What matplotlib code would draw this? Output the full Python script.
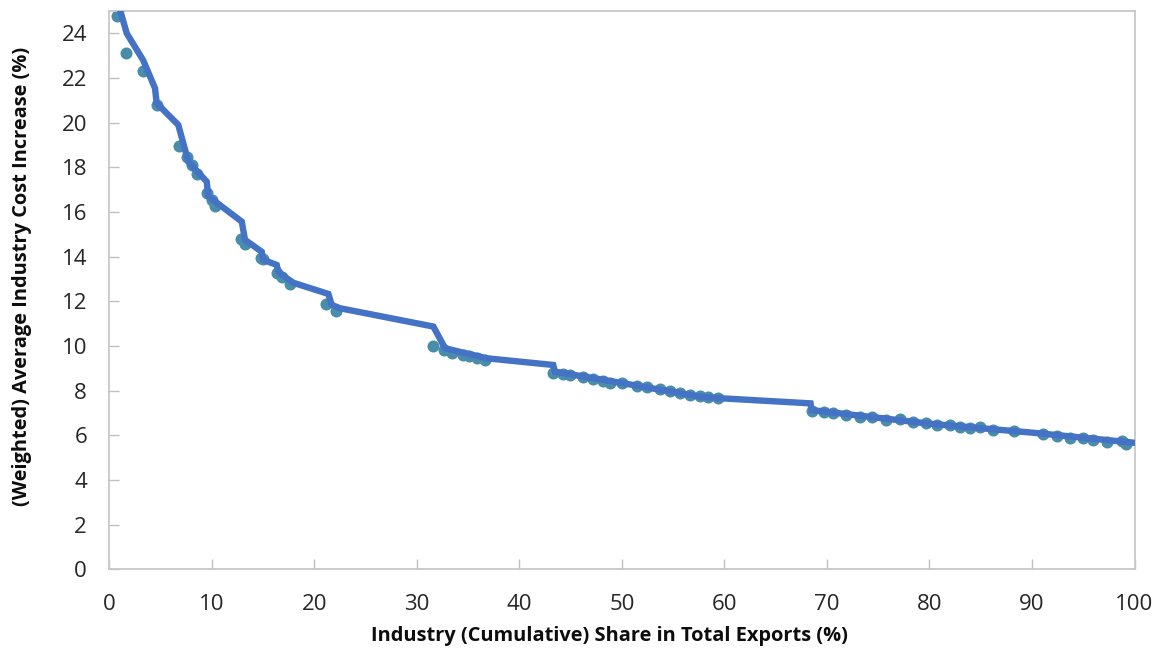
import matplotlib
matplotlib.use("Agg")
import matplotlib.pyplot as plt

# Scatter points: industry cumulative share (%) vs weighted avg cost increase (%)
pts_x = [0.72, 1.63, 3.32, 4.62, 6.77, 7.55, 8.04, 8.53, 9.50, 9.99, 10.31,
         12.82, 13.24, 14.8, 15.0, 16.33, 16.82, 17.63, 21.14, 22.12,
         31.6, 32.65, 33.4, 34.5, 35.1, 35.84, 36.65,
         43.3, 44.3, 44.9, 46.2, 47.2, 48.2, 48.85, 50.0, 51.45, 52.4, 53.7,
         54.7, 55.7, 56.65, 57.6, 58.4, 59.4,
         68.5, 69.7, 70.6, 71.9, 73.2, 74.4, 75.8, 77.1, 78.4, 79.7, 80.7,
         82.0, 83.0, 83.98, 84.9, 86.2, 88.2, 91.1, 92.4, 93.7, 95.0, 96.0,
         97.3, 98.8, 99.2]
pts_y = [24.79, 23.14, 22.31, 20.78, 18.96, 18.48, 18.10, 17.70, 16.87, 16.54, 16.27,
         14.78, 14.57, 13.93, 13.88, 13.28, 13.10, 12.76, 11.87, 11.58,
         10.0, 9.82, 9.70, 9.60, 9.55, 9.45, 9.36,
         8.80, 8.75, 8.70, 8.60, 8.50, 8.43, 8.36, 8.34, 8.20, 8.15, 8.06,
         8.00, 7.91, 7.82, 7.78, 7.72, 7.66,
         7.10, 7.06, 7.00, 6.91, 6.84, 6.80, 6.69, 6.71, 6.60, 6.54, 6.46,
         6.46, 6.39, 6.31, 6.36, 6.24, 6.19, 6.06, 5.97, 5.87, 5.87, 5.80,
         5.72, 5.76, 5.62]

# Line (cumulative curve)
line_x = [1.05, 1.70, 3.30, 4.46, 4.62, 6.73, 7.71, 9.50, 9.66, 12.92, 13.24,
          14.87, 15.00, 16.33, 16.50, 17.95, 21.37, 21.70, 22.50, 31.61, 32.75,
          36.80, 43.30, 43.48, 50.0, 57.6, 59.6, 68.4, 68.5, 80.0, 90.0, 99.9]
line_y = [25.05, 24.00, 22.80, 21.54, 20.87, 19.90, 18.25, 17.36, 16.70, 15.57, 14.75,
          14.22, 13.86, 13.63, 13.30, 12.83, 12.33, 11.84, 11.69, 10.87, 9.90,
          9.45, 9.15, 8.85, 8.34, 7.73, 7.66, 7.43, 7.13, 6.52, 6.12, 5.67]

x_ticks = list(range(0, 101, 10))
y_ticks = list(range(0, 25, 2))
x_label = "Industry (Cumulative) Share in Total Exports (%)"
y_label = "(Weighted) Average Industry Cost Increase (%)"

plt.rcParams['font.family'] = ['Open Sans', 'DejaVu Sans']

W, H = 1164, 654
fig = plt.figure(figsize=(W / 100, H / 100), dpi=100)
x0, x1, y0, y1 = 109.3, 1134.5, 569.3, 11.0
ax = fig.add_axes([x0 / W, (H - y0) / H, (x1 - x0) / W, (y0 - y1) / H])

ax.scatter(pts_x, pts_y, s=75, color="#4A8DAB", zorder=2, linewidths=0)
ax.plot(line_x, line_y, color="#4472C4", lw=4.6, zorder=3, solid_joinstyle="miter")

ax.set_xlim(0, 100)
ax.set_ylim(0, 25)
ax.set_xticks(x_ticks)
ax.set_yticks(y_ticks)
ax.tick_params(direction="in", length=7, width=1, color="#BFBFBF",
               labelsize=16, labelcolor="#262626")
ax.tick_params(axis="x", pad=18)
ax.tick_params(axis="y", pad=16)
for s in ax.spines.values():
    s.set_color("#C8C8C8")
    s.set_linewidth(1.3)

ax.set_xlabel(x_label, fontsize=14.4, fontweight="bold", color="#0D0D0D")
ax.set_ylabel(y_label, fontsize=14.4, fontweight="bold", color="#0D0D0D")
ax.xaxis.set_label_coords((609 - x0) / (x1 - x0), (y0 - 636) / (y0 - y1))
ax.xaxis.label.set_va("center")
ax.yaxis.set_label_coords((22 - x0) / (x1 - x0), (y0 - 276) / (y0 - y1))
ax.yaxis.label.set_va("center")

fig.savefig("out.png", dpi=100)
